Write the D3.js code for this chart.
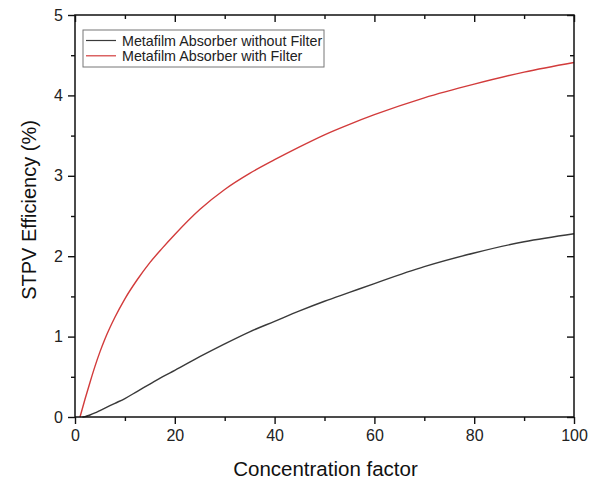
<!DOCTYPE html>
<html>
<head>
<meta charset="utf-8">
<script src="https://cdn.jsdelivr.net/npm/d3@7"></script>
<style>
  body { margin: 0; background: #fff; }
  svg text { font-family: "Liberation Sans", Arial, sans-serif; }
</style>
</head>
<body>
<svg id="chart" width="589" height="483"></svg>
<script>
// values
const concWithout = [1.5, 2, 3, 4, 5, 6, 8, 10, 12.5, 15, 17.5, 20, 25, 30, 35, 40, 45, 50, 55, 60, 70, 80, 90, 100];
const withoutFilter = [0.0, 0.005, 0.025, 0.05, 0.08, 0.11, 0.17, 0.23, 0.32, 0.41, 0.50, 0.58, 0.75, 0.91, 1.06, 1.19, 1.32, 1.44, 1.55, 1.66, 1.87, 2.04, 2.18, 2.28];
const concWith = [1, 2, 3, 4, 5, 6, 8, 10, 12.5, 15, 17.5, 20, 25, 30, 35, 40, 45, 50, 55, 60, 70, 80, 90, 100];
const withFilter = [0.0, 0.22, 0.43, 0.63, 0.81, 0.97, 1.24, 1.47, 1.71, 1.92, 2.10, 2.27, 2.58, 2.83, 3.03, 3.20, 3.36, 3.51, 3.64, 3.76, 3.97, 4.14, 4.29, 4.41];

const seriesNames = ["Metafilm Absorber without Filter", "Metafilm Absorber with Filter"];
const seriesColors = ["#3a3a3a", "#d23b3b"];

const xMajor = [0, 20, 40, 60, 80, 100];
const xMinor = [10, 30, 50, 70, 90];
const yMajor = [0, 1, 2, 3, 4, 5];
const yMinor = [0.5, 1.5, 2.5, 3.5, 4.5];

const svg = d3.select("#chart");
const margin = {left: 75, right: 15, top: 15, bottom: 66};
const W = 589, H = 483;

const x = d3.scaleLinear().domain([0, 100]).range([margin.left, W - margin.right]);
const y = d3.scaleLinear().domain([0, 5]).range([H - margin.bottom, margin.top]);

const axisColor = "#111";

// curves
const line = d3.line()
    .x(d => x(d[0]))
    .y(d => y(d[1]))
    .curve(d3.curveMonotoneX);

[[concWithout, withoutFilter], [concWith, withFilter]].forEach(([xs, vals], i) => {
    svg.append("path")
        .datum(xs.map((c, j) => [c, vals[j]]))
        .attr("d", line)
        .attr("fill", "none")
        .attr("stroke", seriesColors[i])
        .attr("stroke-width", 1.4);
});

// axes
const drawAxis = (axis, tx, ty) => {
    const g = svg.append("g")
        .attr("transform", `translate(${tx},${ty})`)
        .call(axis);
    g.select(".domain").remove();
    g.selectAll("line").attr("stroke", axisColor).attr("stroke-width", 1.4);
    g.selectAll("text")
        .attr("fill", "#222")
        .style("font-size", "16px");
    return g;
};

// bottom
drawAxis(d3.axisBottom(x).tickValues(xMajor).tickSize(7).tickPadding(6).tickFormat(d3.format("d")), 0, y(0));
drawAxis(d3.axisBottom(x).tickValues(xMinor).tickSize(4).tickFormat(""), 0, y(0));
// top (inward)
drawAxis(d3.axisBottom(x).tickValues(xMajor).tickSize(7).tickFormat(""), 0, y(5));
drawAxis(d3.axisBottom(x).tickValues(xMinor).tickSize(4).tickFormat(""), 0, y(5));
// left
drawAxis(d3.axisLeft(y).tickValues(yMajor).tickSize(7).tickPadding(5).tickFormat(d3.format("d")), x(0), 0);
drawAxis(d3.axisLeft(y).tickValues(yMinor).tickSize(4).tickFormat(""), x(0), 0);
// right (inward)
drawAxis(d3.axisLeft(y).tickValues(yMajor).tickSize(7).tickFormat(""), x(100), 0);
drawAxis(d3.axisLeft(y).tickValues(yMinor).tickSize(4).tickFormat(""), x(100), 0);

// frame
svg.append("rect")
    .attr("x", x(0)).attr("y", y(5))
    .attr("width", x(100) - x(0)).attr("height", y(0) - y(5))
    .attr("fill", "none")
    .attr("stroke", axisColor)
    .attr("stroke-width", 1.5);

// axis titles
svg.append("text")
    .attr("x", (x(0) + x(100)) / 2 + 1)
    .attr("y", 476)
    .attr("text-anchor", "middle")
    .style("font-size", "20.5px")
    .attr("fill", "#111")
    .text("Concentration factor");

svg.append("text")
    .attr("transform", "translate(36,210) rotate(-90)")
    .attr("text-anchor", "middle")
    .style("font-size", "20px")
    .attr("fill", "#111")
    .text("STPV Efficiency (%)");

// legend
const legend = svg.append("g").attr("transform", "translate(83,30)");
legend.append("rect")
    .attr("width", 241).attr("height", 37)
    .attr("fill", "#fff")
    .attr("stroke", "#777")
    .attr("stroke-width", 1);

seriesNames.forEach((name, i) => {
    const row = legend.append("g").attr("transform", `translate(0,${10.5 + i * 15.3})`);
    row.append("line")
        .attr("x1", 3).attr("x2", 33)
        .attr("stroke", seriesColors[i])
        .attr("stroke-width", 1.2);
    row.append("text")
        .attr("x", 39).attr("y", 5)
        .style("font-size", "14.3px")
        .attr("fill", "#222")
        .text(name);
});
</script>
</body>
</html>
